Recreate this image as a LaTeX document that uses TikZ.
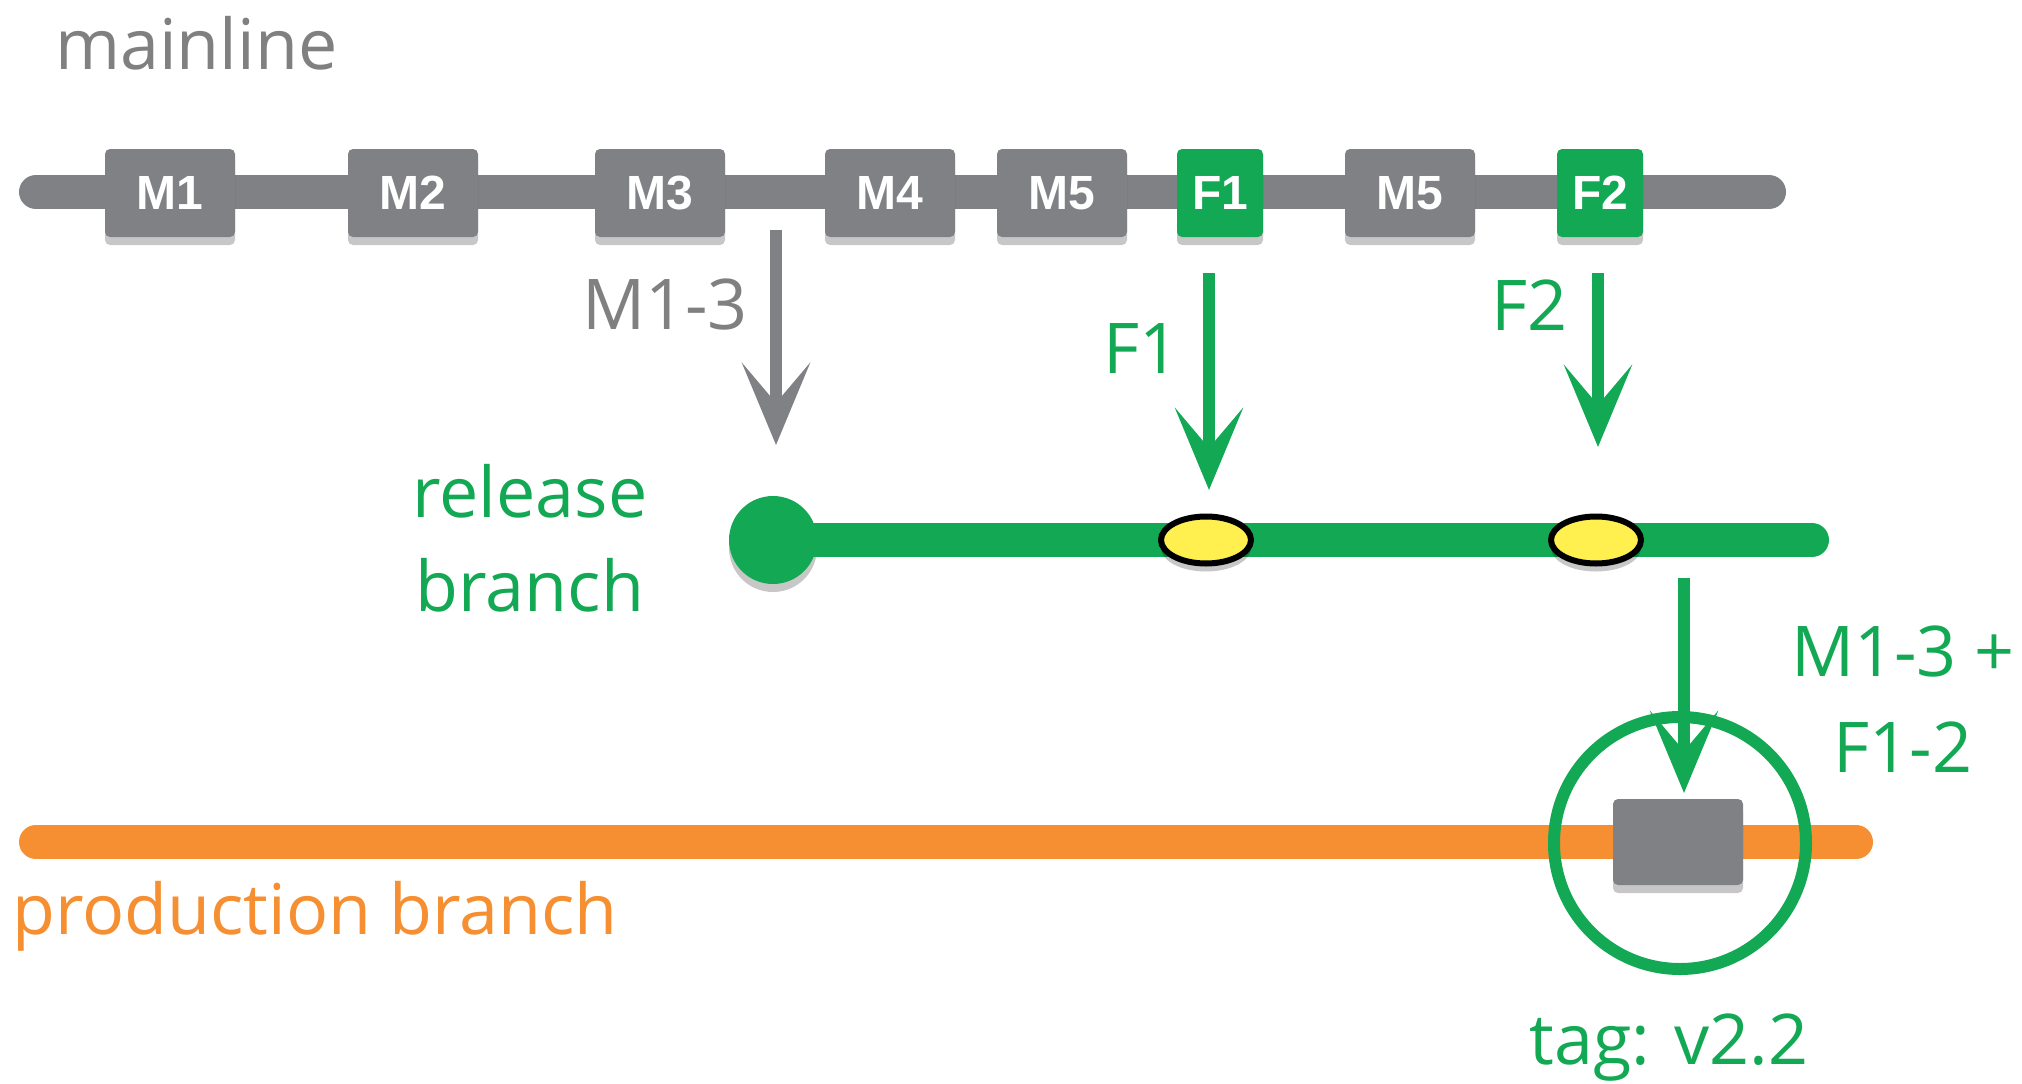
\documentclass[tikz,border=0pt]{standalone}
\usepackage{fontspec}
\setmainfont{Open Sans}
\newfontfamily\boxfont{Liberation Sans}
\usetikzlibrary{arrows.meta,shapes.geometric,shadows}
\definecolor{cgray}{RGB}{128,129,133}
\definecolor{cgreen}{RGB}{19,169,84}
\definecolor{corange}{RGB}{245,143,49}
\definecolor{cyellow}{RGB}{255,240,80}
\definecolor{ctext}{RGB}{128,128,128}
\begin{document}
\begin{tikzpicture}[x=1pt,y=-1pt,
  shad/.style={drop shadow={shadow xshift=0pt,shadow yshift=-8pt,opacity=0.22,fill=black}},
  commit/.style={rounded corners=5pt, fill=cgray, text=white,
    font=\boxfont\bfseries\fontsize{48}{50}\selectfont,
    minimum width=130pt, minimum height=88pt, inner sep=0pt, shad},
  fcommit/.style={commit, fill=cgreen, minimum width=86pt},
  bar/.style={line width=34pt, line cap=round},
  lbl/.style={font=\fontsize{70}{80}\selectfont, inner sep=0pt},
  arr/.style={line width=12pt, -{Stealth[length=82pt,width=68pt,inset=40pt]}},
  ysel/.style={ellipse, draw=black, line width=6pt, fill=cyellow,
    minimum width=90pt, minimum height=47pt, inner sep=0pt, shad}
]
\useasboundingbox (0,0) rectangle (2022,1084);

% mainline
\coordinate (mlA) at (36,192);
\coordinate (mlB) at (1769,192);
\draw[bar,cgray] (mlA) -- (mlB);
\node[commit] (m1) at (170,193) {M1};
\node[commit] (m2) at (413,193) {M2};
\node[commit] (m3) at (660,193) {M3};
\node[commit] (m4) at (890,193) {M4};
\node[commit] (m5) at (1062,193) {M5};
\node[fcommit] (f1) at (1220,193) {F1};
\node[commit] (m5b) at (1410,193) {M5};
\node[fcommit] (f2) at (1600,193) {F2};
\node[lbl,text=ctext,anchor=base west] (tmain) at (55,69) {mainline};

% release branch
\coordinate (rlB) at (1812,540);
\node[circle, fill=cgreen, minimum size=88pt, inner sep=0pt, shad] (rel) at (773,540) {};
\draw[bar,cgreen] (rel.center) -- (rlB);
\node[ysel] (y1) at (1206,540) {};
\node[ysel] (y2) at (1596,540) {};
\node[lbl,text=cgreen,anchor=base] (trel1) at (530,517) {release};
\node[lbl,text=cgreen,anchor=base] (trel2) at (530,611) {branch};

% arrows to release
\coordinate (a1s) at (776,230);
\coordinate (a1e) at (776,445);
\draw[arr,cgray] (a1s) -- (a1e);
\node[lbl,text=ctext,anchor=base west] (tm13) at (582,329) {M1-3};
\coordinate (a2s) at (1209,273);
\coordinate (a2e) at (1209,490);
\draw[arr,cgreen] (a2s) -- (a2e);
\node[lbl,text=cgreen,anchor=base west] (tf1) at (1103,373) {F1};
\coordinate (a3s) at (1598,273);
\coordinate (a3e) at (1598,447);
\draw[arr,cgreen] (a3s) -- (a3e);
\node[lbl,text=cgreen,anchor=base west] (tf2) at (1491,330) {F2};

% production branch
\coordinate (pdA) at (36,842);
\coordinate (pdB) at (1856,842);
\draw[bar,corange] (pdA) -- (pdB);
\node[lbl,text=corange,anchor=base west] (tprod) at (12,934) {production branch};
\node[commit, minimum height=86pt] (pbox) at (1678,842) {};
\node[circle, draw=cgreen, line width=12pt, minimum size=252pt, inner sep=0pt] (tagc) at (1680,843) {};
\coordinate (a4s) at (1684,578);
\coordinate (a4e) at (1684,793);
\draw[arr,cgreen] (a4s) -- (a4e);
\node[lbl,text=cgreen,anchor=base] (tmf1) at (1903,676) {M1-3 +};
\node[lbl,text=cgreen,anchor=base] (tmf2) at (1903,772) {F1-2};
\node[lbl,text=cgreen,anchor=base] (ttag) at (1669,1064) {tag: v2.2};
\end{tikzpicture}
\end{document}
